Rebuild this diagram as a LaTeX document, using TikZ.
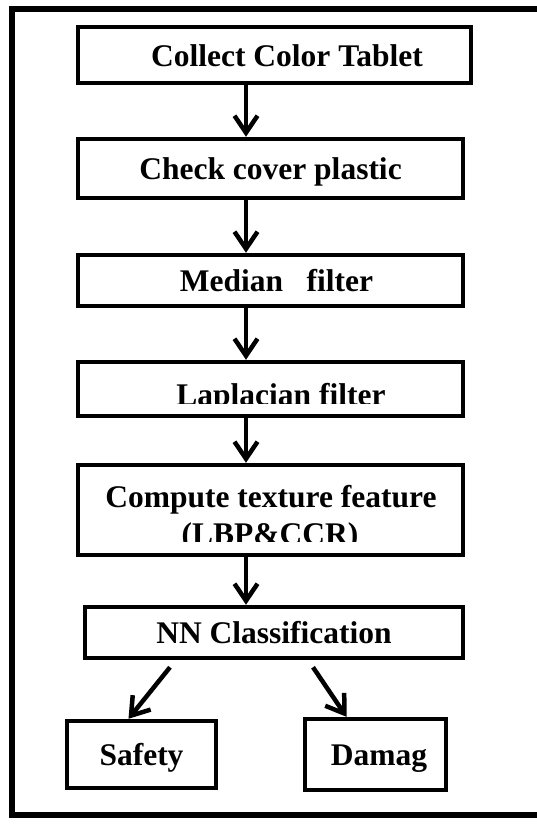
\documentclass[tikz,border=0pt]{standalone}
\usepackage{fontspec}
\setmainfont{Liberation Serif}
\usepackage{tikz}
\usetikzlibrary{arrows.meta}

\begin{document}
\begin{tikzpicture}[x=1pt, y=-1pt,
	every node/.style={font=\bfseries\fontsize{31.5}{33}\selectfont},
	box/.style={draw, line width=4.5pt, inner sep=0pt, text height=22pt, text depth=0pt},
	arr/.style={line width=4.5pt, -{Straight Barb[length=17pt, width=23pt, line width=4.5pt]}}]
	\useasboundingbox (0,0) rectangle (537,825);
	% outer frame
	\draw[line width=6pt] (537,8.5) -- (12,8.5) -- (12,815) -- (537,815);
	\coordinate (spine) at (246,0);
	% boxes
	\node[box, minimum width=393pt, minimum height=56pt] (collect) at (274.5,55) {\hspace*{25pt}Collect Color Tablet};
	\node[box, minimum width=385pt, minimum height=59pt] (check) at (270.5,168.5) {Check cover plastic};
	\node[box, minimum width=385pt, minimum height=51pt] (median) at (270.5,280.5) {\hspace*{12pt}Median~~~filter};
	\node[box, minimum width=385pt, minimum height=54pt] (laplace) at (270.5,389) {};
	\node[box, minimum width=385pt, minimum height=90pt] (texture) at (270.5,510) {};
	\node[box, minimum width=378pt, minimum height=51pt] (nn) at (274,632.5) {NN Classification};
	\node[box, minimum width=149pt, minimum height=67pt] (safety) at (141.5,754.5) {Safety};
	\node[box, minimum width=141pt, minimum height=71pt] (damag) at (375.5,754.5) {\hspace*{7pt}Damag};
	% cut off labels
	\begin{scope}
		\clip (80,364) rectangle (460,403);
		\node[anchor=base] (laptext) at (281,405) {Laplacian filter};
	\end{scope}
	\begin{scope}
		\clip (80,467) rectangle (460,541);
		\node[anchor=base] (comptext) at (271,507) {Compute texture feature};
		\node[anchor=base] (lbptext) at (270,544) {(LBP\&CCR)};
	\end{scope}
	% arrows
	\draw[arr] (collect.south -| spine) -- (check.north -| spine);
	\draw[arr] (check.south -| spine) -- (median.north -| spine);
	\draw[arr] (median.south -| spine) -- (laplace.north -| spine);
	\draw[arr] (laplace.south -| spine) -- (texture.north -| spine);
	\draw[arr] (texture.south -| spine) -- (nn.north -| spine);
	\draw[arr] ([xshift=-104pt, yshift=-7pt]nn.south) -- ([xshift=-13pt]safety.north);
	\draw[arr] ([xshift=39pt, yshift=-7pt]nn.south) -- ([xshift=-29pt]damag.north);
\end{tikzpicture}
\end{document}
